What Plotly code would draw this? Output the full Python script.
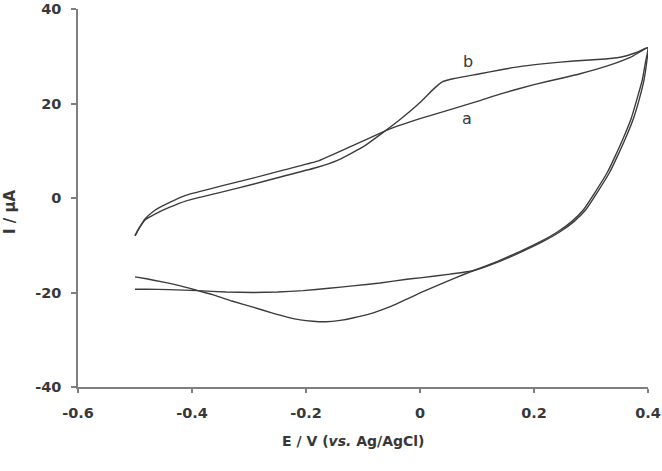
import plotly.graph_objects as go

# Curve a (anodic sweep then cathodic sweep)
a_x = [-0.500, -0.495, -0.490, -0.482, -0.465, -0.440, -0.410, -0.350, -0.293, -0.240,
       -0.180, -0.120, -0.061, -0.040, 0.000, 0.050, 0.105, 0.140, 0.200, 0.250,
       0.281, 0.330, 0.370, 0.400,
       0.398, 0.393, 0.386, 0.375, 0.360, 0.345, 0.333, 0.310, 0.290, 0.270,
       0.245, 0.216, 0.180, 0.140, 0.093, 0.053, 0.000, -0.023, -0.070, -0.118,
       -0.160, -0.205, -0.250, -0.293, -0.340, -0.390, -0.440, -0.480, -0.500]
a_y = [-8.0, -6.8, -5.8, -4.4, -2.6, -1.0, 0.6, 2.5, 4.2, 5.9,
       7.8, 11.0, 14.2, 15.2, 16.8, 18.6, 20.6, 22.0, 24.0, 25.4,
       26.3, 28.0, 29.8, 31.8,
       29.0, 25.0, 21.5, 17.0, 12.5, 8.5, 5.5, 1.0, -2.6, -5.0,
       -7.2, -9.2, -11.3, -13.4, -15.4, -16.1, -16.9, -17.2, -18.0, -18.6,
       -19.1, -19.6, -19.9, -20.0, -19.9, -19.6, -19.4, -19.3, -19.3]

# Curve b
b_x = [-0.500, -0.495, -0.490, -0.482, -0.465, -0.440, -0.410, -0.350, -0.293, -0.240,
       -0.180, -0.146, -0.100, -0.061, -0.035, 0.000, 0.025, 0.039, 0.060, 0.105,
       0.140, 0.180, 0.223, 0.270, 0.311, 0.351, 0.380, 0.400,
       0.396, 0.390, 0.382, 0.371, 0.356, 0.341, 0.329, 0.306, 0.286, 0.266,
       0.241, 0.212, 0.176, 0.136, 0.093, 0.060, 0.035, 0.000, -0.023, -0.050,
       -0.082, -0.118, -0.140, -0.165, -0.188, -0.210, -0.233, -0.260, -0.293, -0.330,
       -0.360, -0.390, -0.420, -0.450, -0.480, -0.500]
b_y = [-8.0, -6.9, -5.9, -4.6, -3.4, -2.0, -0.6, 1.2, 2.9, 4.6,
       6.5, 7.9, 10.8, 14.2, 16.6, 20.2, 23.2, 24.6, 25.3, 26.3,
       27.1, 27.9, 28.5, 29.0, 29.3, 29.8, 30.8, 31.8,
       29.0, 25.0, 21.5, 17.0, 12.5, 8.5, 5.5, 1.0, -2.6, -5.0,
       -7.2, -9.2, -11.3, -13.4, -15.4, -17.0, -18.3, -20.1, -21.4, -22.9,
       -24.3, -25.4, -25.9, -26.2, -26.1, -25.8, -25.2, -24.3, -23.1, -21.8,
       -20.6, -19.6, -18.6, -17.8, -17.1, -16.7]

x_ticks = [-0.6, -0.4, -0.2, 0, 0.2, 0.4]
x_ticktext = ["-0.6", "-0.4", "-0.2", "0", "0.2", "0.4"]
y_ticks = [-40, -20, 0, 20, 40]
y_ticktext = ["-40", "-20", "0", "20", "40"]

labels = ["a", "b"]
label_x = [0.082, 0.084]
label_y = [16.8, 28.8]

line_col = "#3c3c3c"
axis_col = "#7f7f7f"
font_col = "#383838"
FONT = "DejaVu Sans, Liberation Sans, Arial"

fig = go.Figure()
for xs, ys in [(a_x, a_y), (b_x, b_y)]:
    fig.add_trace(go.Scatter(x=xs, y=ys, mode="lines",
                             line=dict(color=line_col, width=1.4, shape="spline", smoothing=0.4),
                             showlegend=False, hoverinfo="skip", cliponaxis=False))

for t, lx, ly in zip(labels, label_x, label_y):
    fig.add_annotation(x=lx, y=ly, text=t, showarrow=False,
                       font=dict(family=FONT, size=16, color=font_col, weight="normal"))

W, H = 662, 471
ml, mr, mt, mb = 78, 14, 9, 84

fig.add_annotation(xref="paper", yref="paper",
                   x=(10 - ml) / (W - ml - mr), y=1 - (212 - mt) / (H - mt - mb),
                   text="<b>I / µA</b>", textangle=-90, showarrow=False,
                   xanchor="center", yanchor="middle",
                   font=dict(family=FONT, size=15, color=font_col))
fig.add_annotation(xref="paper", yref="paper",
                   x=(353 - ml) / (W - ml - mr), y=-(441 - (H - mb)) / (H - mt - mb),
                   text="<b>E / V (<i>vs.</i> Ag/AgCl)</b>", showarrow=False,
                   xanchor="center", yanchor="middle",
                   font=dict(family=FONT, size=14, color=font_col))

tickfont = dict(family=FONT, size=14.5, color=font_col, weight="bold")

fig.update_layout(
    width=W, height=H,
    margin=dict(l=ml, r=mr, t=mt, b=mb, autoexpand=False),
    paper_bgcolor="white", plot_bgcolor="white",
    xaxis=dict(range=[-0.6, 0.4], tickvals=x_ticks, ticktext=x_ticktext,
               showgrid=False, zeroline=False, showline=True, linecolor=axis_col,
               linewidth=1.5, ticks="outside", ticklen=4, tickcolor=axis_col, tickwidth=1.5,
               tickfont=tickfont, ticklabelstandoff=8,
               ticklabeloverflow="allow", automargin=False, fixedrange=True),
    yaxis=dict(range=[-40, 40], tickvals=y_ticks, ticktext=y_ticktext,
               showgrid=False, zeroline=False, showline=True, linecolor=axis_col,
               linewidth=1.5, ticks="outside", ticklen=5, tickcolor=axis_col, tickwidth=1.5,
               tickfont=tickfont, ticklabelstandoff=7,
               ticklabeloverflow="allow", automargin=False, fixedrange=True),
)

fig.write_html("out.html")
